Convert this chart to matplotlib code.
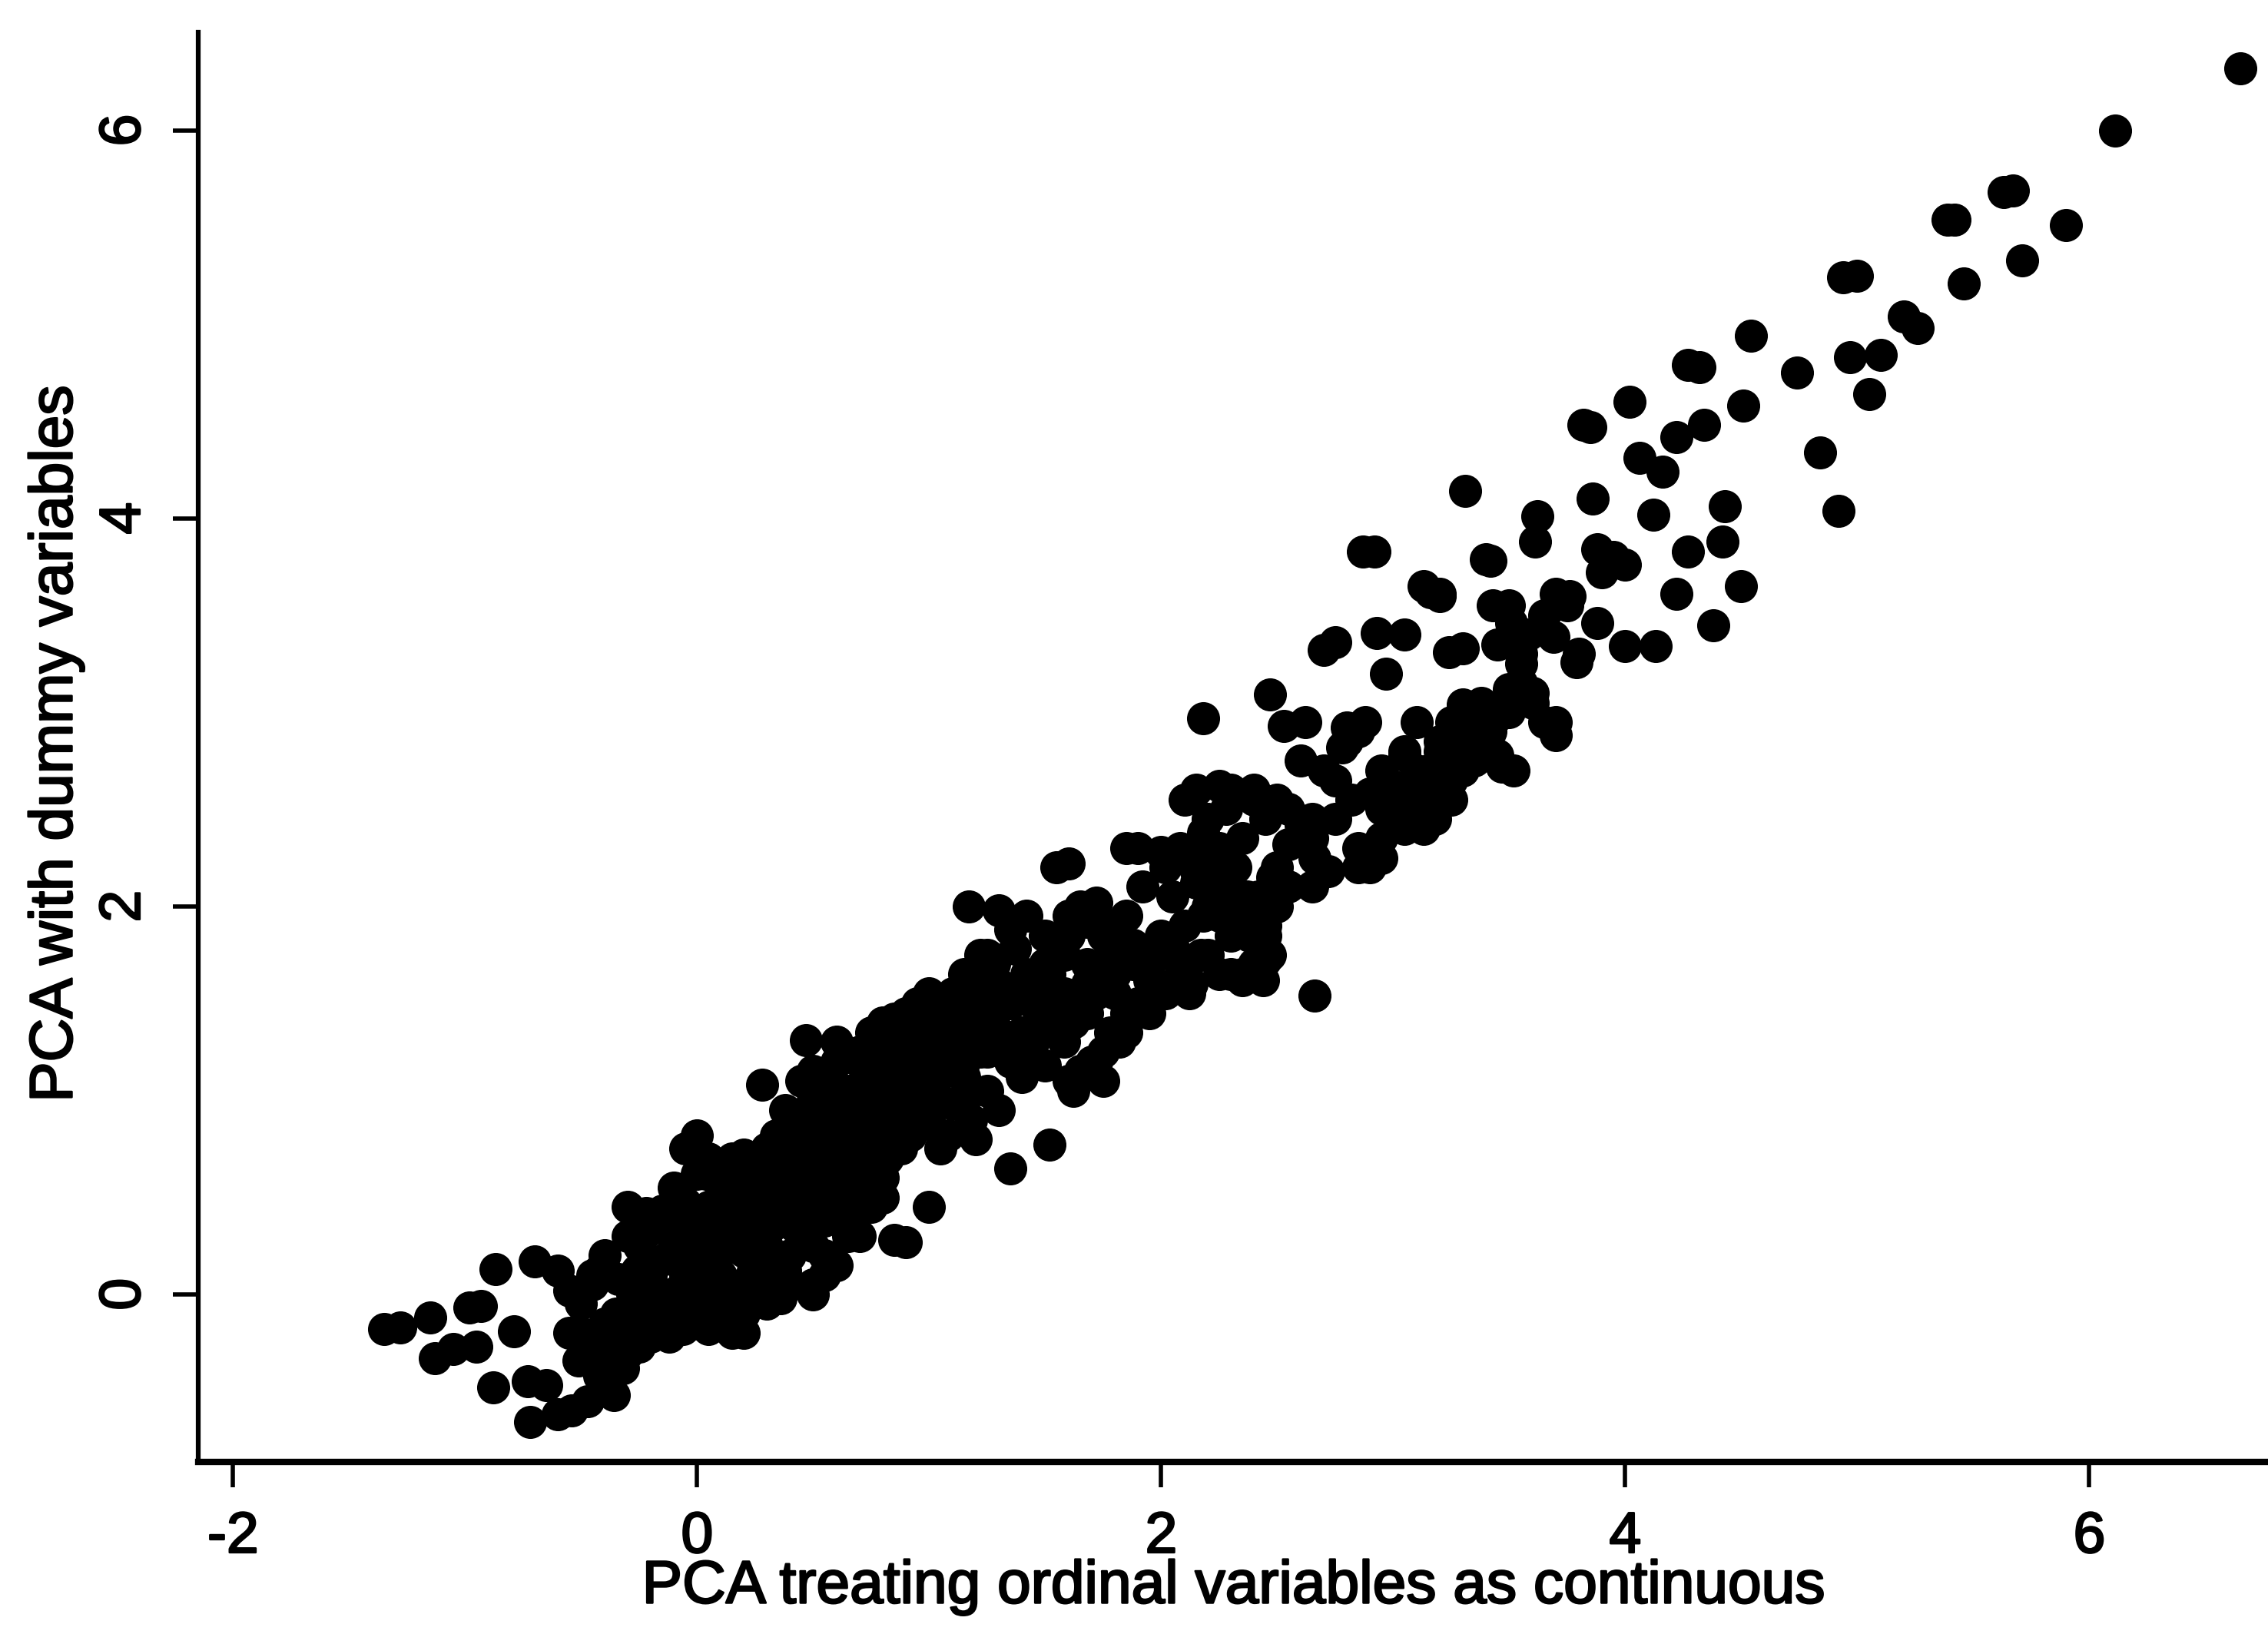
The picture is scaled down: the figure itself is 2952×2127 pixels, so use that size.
import matplotlib
matplotlib.use("Agg")
import matplotlib.pyplot as plt
import matplotlib.patheffects as pe

x_tail = [-1.35,-1.28,-1.15,-1.13,-1.05,-0.98,-0.93,-0.95,-0.88,-0.87,-0.79,-0.73,-0.72,-0.65,-0.6,-0.54,-0.47,-0.36,-0.7,-0.51,-0.6,-0.55,-0.45,-0.4,-0.35,-0.3,-0.25,-0.2,-0.15,-0.1,-0.05,-0.45,-0.4,-0.35,-0.3,-0.28,-0.2,-0.15,-0.35,-0.25]
y_tail = [-0.18,-0.17,-0.12,-0.33,-0.28,-0.07,-0.06,-0.27,-0.48,0.13,-0.19,-0.45,-0.66,-0.47,-0.62,-0.6,-0.55,-0.52,0.17,-0.34,0.12,-0.2,-0.25,-0.38,-0.32,-0.3,-0.27,-0.22,0.43,0.38,0.47,0.1,0.2,-0.1,0.45,0.0,0.1,-0.1,-0.2,0.25]

x_core = [-0.5,-0.45,-0.4,-0.3,-0.25,-0.2,-0.15,-0.1,-0.05,0.0,0.05,0.1,0.15,0.2,-0.2,-0.1,0.0,0.1,0.2,0.25,0.3,0.35,0.4,0.45,0.5,0.55,0.6,0.65,-0.05,0.02,0.05,0.08,0.12,0.18,0.22,0.28,0.32,0.38,0.42,0.48,0.52,0.58,0.62,0.68,0.72,0.78,0.82,0.88,0.92,0.98,0.0,0.05,0.1,0.15,0.22,0.3,0.35,0.4,0.45,0.5,0.55,0.6,0.65,0.7,0.75,0.8,0.85,0.9,0.95,1.0,1.05,1.1,1.15,1.2,1.25,0.45,0.5,0.6,0.7,0.75,0.8,0.85,0.9,0.95,1.0,1.05,1.1,1.15,1.2,1.25,1.3,1.35,1.4,1.45,1.5,0.28,0.34,0.47,0.62,0.85,0.9,0.8,1.0,1.05,1.2,1.3,1.35,1.52,0.3,0.35,0.4,0.5,0.55,0.65,0.7,0.75,0.8,0.2,0.25,0.12,0.06,-0.1,-0.05,0.0,0.04,0.6,0.7,0.75,0.85,0.95,1.05,1.15,1.25,1.35,1.45]
y_core = [-0.05,0.05,-0.15,-0.1,0.0,-0.08,-0.2,-0.05,0.1,-0.15,-0.18,-0.1,-0.2,-0.2,0.15,0.2,0.05,0.1,0.0,0.2,0.25,0.1,0.2,0.3,0.25,0.2,0.15,0.3,0.3,0.35,0.45,0.25,0.35,0.3,0.5,0.42,0.6,0.45,0.55,0.65,0.48,0.55,0.62,0.7,0.8,0.85,0.7,0.75,0.82,0.95,0.62,0.7,0.55,0.7,0.65,0.75,0.82,0.7,0.92,1.0,0.85,0.95,1.05,1.0,1.1,1.15,1.05,1.2,1.3,1.1,1.0,1.25,1.12,1.3,1.4,1.1,1.15,1.3,1.25,1.35,1.4,1.35,1.45,1.5,1.4,1.45,1.55,1.6,1.55,1.5,1.6,1.5,1.35,1.5,1.65,1.08,0.82,1.31,0.5,0.28,0.27,0.5,0.45,0.75,0.8,0.95,0.65,0.77,-0.05,0.15,0.05,0.0,0.1,0.4,0.3,0.45,0.6,0.05,0.1,0.0,-0.05,0.55,0.75,0.82,0.62,1.2,1.2,1.28,1.42,1.3,1.35,1.2,1.25,1.2,1.3]

x_fill = [-0.42,-0.36,-0.3,-0.24,-0.18,-0.12,-0.06,0.02,0.08,0.14,
          0.2,-0.32,-0.26,-0.2,-0.14,-0.08,0.06,0.14,0.24,0.3,
          -0.42,-0.34,-0.26,-0.14,-0.05,0.02,0.1,0.2,0.3,0.38,
          -0.28,-0.22,-0.1,0.0,0.12,0.2,0.32,0.42,0.5,-0.1,
          0.05,0.15,0.25,0.38,0.45,0.55,0.62,0.1,0.18,0.28,
          0.4,0.5,0.6,0.7,0.78,0.2,0.3,0.38,0.48,0.58,
          0.68,0.76,0.84,0.92,0.38,0.46,0.55,0.65,0.72,0.82,
          0.92,1.0,1.08,0.55,0.62,0.72,0.8,0.9,1.0,1.1,
          1.18,0.72,0.78,0.88,0.98,1.08,1.15,1.25,0.85,0.95,
          1.02,1.12,1.22,1.3,1.38,1.0,1.1,1.2,1.28,1.36,
          1.45,1.58,1.12,1.28,1.38,1.48,1.58,1.68,1.25,1.42,
          1.52,1.62,1.72,1.82,1.35,1.5,1.68,1.78,1.88,1.98,
          1.88,1.95,2.08,2.18,2.05,2.15,2.28,2.38,1.92,2.02,
          1.4,1.5,1.78,1.68,1.6,1.75,1.1,1.0,0.9]
y_fill = [-0.42,-0.3,-0.2,-0.15,-0.12,-0.22,-0.18,-0.05,-0.12,-0.02,
          -0.1,-0.38,-0.05,0.05,0.0,0.02,0.0,0.05,0.12,0.02,
          -0.25,0.08,0.12,0.18,0.12,0.15,0.22,0.22,0.12,0.12,
          0.3,0.32,0.28,0.22,0.25,0.35,0.35,0.35,0.38,0.42,
          0.42,0.48,0.48,0.4,0.48,0.38,0.48,0.6,0.55,0.55,
          0.6,0.55,0.65,0.55,0.6,0.72,0.68,0.8,0.72,0.75,
          0.68,0.72,0.85,0.9,0.95,0.82,0.72,0.82,0.9,0.95,
          1.05,0.9,0.82,1.1,0.95,1.05,1.05,0.95,1.2,1.15,
          0.9,1.1,1.25,1.25,1.25,1.3,1.0,1.05,1.3,1.4,
          1.3,1.4,1.25,1.35,1.2,1.48,1.42,1.5,1.45,1.3,
          1.6,1.55,1.55,1.7,1.55,1.4,1.75,1.6,1.65,1.65,
          1.65,1.45,1.55,1.75,1.88,1.85,1.92,1.75,1.7,1.6,
          1.8,1.72,1.7,1.95,2.05,2.18,2.2,2.0,2.1,2.2,
          1.12,1.18,1.35,1.45,1.85,1.1,0.98,0.88,0.9]

x_extra = [-0.55,-0.5,-0.42,-0.3,-0.22,0.36,0.5,1.25,1.15,1.6,
           1.7,1.85,1.95,2.1,2.25,2.35,1.9,2.05,1.85,2.4,
           2.45,2.5,2.2,2.28,2.4,2.65,2.75,2.85,2.9,2.8,
           2.82,2.95,3.05,3.1,3.15,3.1,3.4,3.5,3.6,3.7,
           3.45,3.55,3.65,3.8,3.2,3.42,3.25,3.35,3.08,3.18]
y_extra = [0.02,-0.2,0.12,0.3,0.42,-0.02,0.05,1.75,1.65,1.1,
           1.2,1.35,1.45,1.6,1.65,1.62,2.3,2.25,2.3,1.7,
           1.85,2.0,2.45,2.5,2.6,2.45,2.45,2.3,2.2,2.85,
           2.55,2.35,2.8,2.7,2.55,2.95,2.85,3.0,3.1,2.95,
           3.35,3.3,3.5,3.3,3.6,3.78,2.95,2.75,2.58,2.45]

x_mid = [1.0,1.17,1.22,1.3,1.37,1.42,1.5,1.55,1.6,1.65,1.72,1.78,1.45,1.55,1.6,1.68,1.75,1.55,1.62,1.7,1.8,1.85,1.9,1.95,2.0,2.05,2.1,1.85,1.95,2.02,1.75,1.82,1.65,1.72,1.62,1.58,1.55,1.8,2.1,2.15,2.2,2.25,2.3,2.35,2.4,2.45,2.5,2.55,2.15,2.2,2.28,2.35,2.42,2.48,2.35,2.44,2.47,2.2,2.3,2.13,2.0,2.08,2.17,2.18,2.25,2.32,2.38,2.45,2.25,2.3,2.37,2.5,2.55,2.65,2.66,2.6,2.7,2.75,2.8,2.85,2.9,2.95,2.65,2.72,2.55,2.6,2.12,2.17,2.3,2.45]
y_mid = [1.55,2.0,1.75,1.98,1.78,1.95,1.7,2.2,2.22,2.0,2.02,1.9,1.55,1.8,1.95,1.7,1.85,1.5,1.4,1.6,1.65,1.45,1.5,1.7,1.85,1.8,1.9,1.95,1.62,1.55,1.25,1.3,1.15,1.2,1.05,1.3,1.4,1.55,2.55,2.6,2.3,2.62,2.6,2.35,2.55,2.45,2.2,2.1,2.12,2.0,2.1,1.95,2.05,2.15,1.65,1.62,1.75,1.75,1.85,1.6,2.28,2.3,2.15,2.38,2.3,2.2,1.85,1.72,1.95,2.0,2.05,2.55,2.5,2.35,2.25,2.75,2.7,2.65,2.92,2.9,2.58,2.5,2.1,2.18,2.32,2.42,1.55,1.75,1.65,1.9]

x_up = [2.66,2.18,2.47,2.53,2.62,2.78,2.88,2.95,3.0,3.05,3.12,3.2,3.25,3.1,3.13,3.22,3.3,3.38,3.45,3.5,3.55,3.6,3.65,3.7,3.3,3.37,3.47,3.52,3.2,3.25,3.3,3.32,3.0,3.05,3.13,3.42,3.45,2.85,2.95,3.15]
y_up = [1.54,2.97,3.09,2.93,2.95,2.82,2.95,2.7,2.62,2.78,2.62,2.8,2.65,2.45,2.42,2.55,2.85,3.05,2.98,3.12,3.15,3.05,2.95,2.88,3.04,2.95,2.72,2.7,2.85,2.55,2.7,2.98,2.5,2.4,2.4,2.9,2.78,2.2,2.25,2.7]

x_high = [2.7,2.75,2.87,2.92,2.93,2.97,3.13,3.2,3.24,3.3,3.31,3.4,3.43,3.51,3.58,3.61,3.62,3.69,3.7,3.75,3.79,3.82,3.86,3.88,3.9,3.88,4.0,4.0,4.02,4.06,4.12,4.13,4.16,4.22,4.22,4.27,4.27,4.34,4.38,4.42,4.43,4.5,4.51,4.54,3.05,3.16,3.5,3.55,3.76,3.85]
y_high = [3.32,3.36,3.83,3.83,3.41,3.2,3.65,3.61,3.31,3.33,4.14,3.79,3.55,3.46,3.4,3.88,4.01,3.39,3.61,3.55,3.26,4.48,4.1,3.84,3.72,3.46,3.76,3.34,4.6,4.31,4.02,3.34,4.24,4.42,3.61,4.79,3.83,4.48,3.45,3.88,4.06,3.65,4.58,4.94,3.4,3.62,3.55,3.25,3.6,4.47]

x_top = [4.74,4.84,4.92,4.94,5.0,4.97,5.1,5.05,5.2,5.26,5.39,5.46,5.67,5.71,5.9,6.11,6.65,4.32,3.95,5.42,5.63]
y_top = [4.75,4.34,4.04,5.24,5.25,4.83,4.84,4.64,5.04,4.98,5.54,5.21,5.69,5.33,5.51,6.0,6.32,4.78,3.8,5.54,5.68]

x_values = x_tail + x_core + x_fill + x_extra + x_mid + x_up + x_high + x_top
y_values = y_tail + y_core + y_fill + y_extra + y_mid + y_up + y_high + y_top

x_ticks = [-2, 0, 2, 4, 6]
x_tick_labels = ["-2", "0", "2", "4", "6"]
y_ticks = [0, 2, 4, 6]
y_tick_labels = ["0", "2", "4", "6"]
x_label = "PCA treating ordinal variables as continuous"
y_label = "PCA with dummy variables"

W, H = 2952, 2127
fig = plt.figure(figsize=(W / 100, H / 100), dpi=100, facecolor="white")
L, R, T, B = 258, 2952, 42, 1903
ax = fig.add_axes([L / W, 1 - B / H, (R - L) / W, (B - T) / H])
ax.set_xlim(-2.15, 6.77)
ax.set_ylim(-0.864, 6.505)
ax.plot(x_values, y_values, ls="none", marker="o", ms=31, mfc="black", mec="black", mew=0)

for s in ("top", "right"):
    ax.spines[s].set_visible(False)
ax.spines["left"].set_linewidth(4.5)
ax.spines["bottom"].set_linewidth(6)

stroke = [pe.withStroke(linewidth=1.8, foreground="black")]
ax.set_xticks(x_ticks, x_tick_labels)
ax.set_yticks(y_ticks, y_tick_labels)
ax.tick_params(axis="both", length=24, width=4, pad=20)
ax.tick_params(axis="x", pad=22)
for t in ax.get_xticklabels():
    t.set(fontsize=54, family="Liberation Sans", path_effects=stroke)
for t in ax.get_yticklabels():
    t.set(fontsize=54, family="Liberation Sans", rotation=90, va="center", path_effects=stroke)

fig.text(1606 / W, 1 - 2066 / H, x_label, fontsize=56.5, family="Liberation Sans",
         ha="center", va="center", path_effects=stroke)
fig.text(73 / W, 1 - 968 / H, y_label, fontsize=56.5, family="Liberation Sans",
         rotation=90, ha="center", va="center", path_effects=stroke)

fig.savefig("out.png", dpi=100, facecolor="white")
